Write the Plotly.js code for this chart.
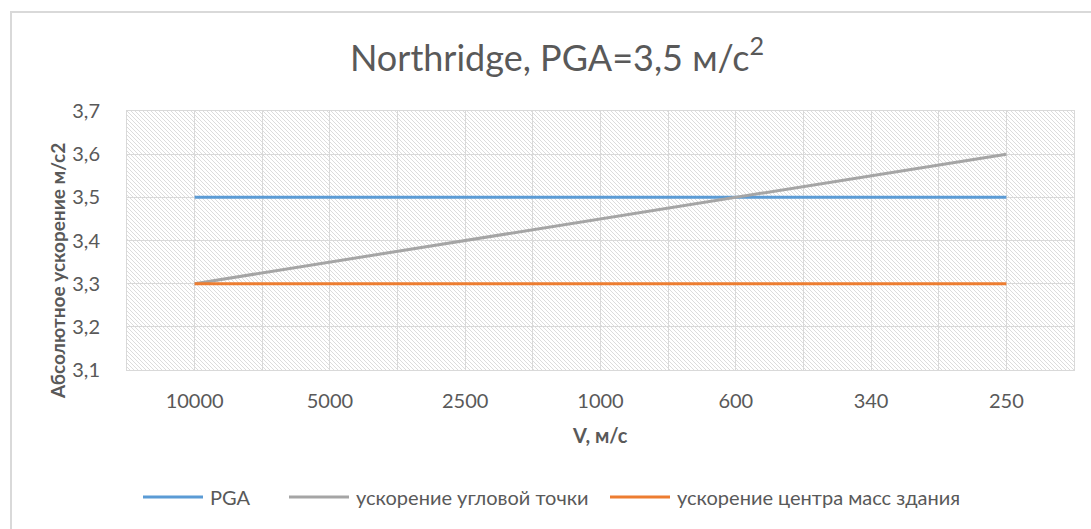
<!DOCTYPE html>
<html>
<head>
<meta charset="utf-8">
<script src="https://cdn.plot.ly/plotly-3.0.1.min.js"></script>
<style>
  html, body { margin: 0; padding: 0; background: #ffffff; }
  #wrap { position: relative; width: 1091px; height: 529px; overflow: hidden; }
  #chart { position: absolute; left: 0; top: 0; width: 1091px; height: 529px; }
  #frame {
    position: absolute; left: 10px; top: 11px; right: -20px; bottom: -20px;
    border-top: 2px solid #d9d9d9; border-left: 2px solid #d9d9d9;
    pointer-events: none;
  }
</style>
</head>
<body>
<div id="wrap">
  <div id="chart"></div>
  <div id="frame"></div>
</div>
<script>
// Shear-wave velocity classes (м/с)
const velocities = ['10000', '5000', '2500', '1000', '600', '340', '250'];
// Peak ground acceleration
const pga = [3.5, 3.5, 3.5, 3.5, 3.5, 3.5, 3.5];
// Acceleration of the corner point
const cornerAccel = [3.3, 3.35, 3.4, 3.45, 3.5, 3.55, 3.6];
// Acceleration of the building's centre of mass
const massCentreAccel = [3.3, 3.3, 3.3, 3.3, 3.3, 3.3, 3.3];
const yTicks = [3.1, 3.2, 3.3, 3.4, 3.5, 3.6, 3.7];
const yTickText = yTicks.map(v => v.toFixed(1).replace('.', ','));

const idx = velocities.map((_, i) => i);
const FONT = 'Lato, "Open Sans", sans-serif';
const TXT = '#595959';
const KEY_LEN = 60;   // legend key line length, px

// plotting area in pixels: x 127..1074, y 111..370
const PX = { l: 127, r: 1074, t: 111, b: 370 };
const toPaperX = px => (px - PX.l) / (PX.r - PX.l);
const toPaperY = py => (PX.b - py) / (PX.b - PX.t);

const traces = [
  { x: idx, y: pga, name: 'PGA', mode: 'lines', legend: 'legend',
    line: { color: '#5B9BD5', width: 3 } },
  { x: idx, y: cornerAccel, name: 'ускорение угловой точки', mode: 'lines', legend: 'legend2',
    line: { color: '#A5A5A5', width: 3 } },
  { x: idx, y: massCentreAccel, name: 'ускорение центра масс здания', mode: 'lines', legend: 'legend3',
    line: { color: '#ED7D31', width: 3 } }
];

function legendAt(px) {
  return {
    orientation: 'h',
    xref: 'container', x: px / 1091, xanchor: 'left',
    yref: 'container', y: 1 - 497 / 529, yanchor: 'middle',
    font: { family: FONT, size: 20, color: TXT },
    itemwidth: KEY_LEN + 2,
    bgcolor: 'rgba(0,0,0,0)'
  };
}

const layout = {
  width: 1091, height: 529,
  margin: { l: PX.l, r: 1091 - PX.r, t: PX.t, b: 529 - PX.b, pad: 0 },
  paper_bgcolor: 'rgba(0,0,0,0)',
  plot_bgcolor: '#ffffff',
  font: { family: FONT, color: TXT },
  showlegend: true,
  title: {
    text: 'Northridge, PGA=3,5 м/с<sup>2</sup>',
    font: { family: FONT, size: 36, color: TXT },
    xref: 'container', x: 557 / 1091, xanchor: 'center',
    yref: 'container', y: 1 - 58 / 529, yanchor: 'middle'
  },
  xaxis: {
    range: [-0.5, 6.5],
    tickmode: 'array', tickvals: idx, ticktext: velocities,
    tickfont: { family: FONT, size: 20, color: TXT },
    ticks: '', ticklabelstandoff: 13,
    showgrid: true, gridcolor: '#d9d9d9', gridwidth: 1,
    minor: { tickmode: 'linear', tick0: 0.5, dtick: 1, showgrid: true, gridcolor: '#d9d9d9', gridwidth: 1, ticks: '' },
    showline: true, linecolor: '#d9d9d9', linewidth: 1, mirror: true,
    zeroline: false, fixedrange: true
  },
  yaxis: {
    range: [3.1, 3.7],
    tickmode: 'array', tickvals: yTicks, ticktext: yTickText,
    tickfont: { family: FONT, size: 20, color: TXT },
    ticks: '', ticklabelstandoff: 22,
    showgrid: true, gridcolor: '#d9d9d9', gridwidth: 1,
    showline: true, linecolor: '#d9d9d9', linewidth: 1, mirror: true,
    zeroline: false, fixedrange: true
  },
  annotations: [
    { text: '<b>V, м/с</b>', xref: 'paper', yref: 'paper',
      x: toPaperX(600), y: toPaperY(435), xanchor: 'center', yanchor: 'middle',
      showarrow: false, font: { family: FONT, size: 20, color: TXT } },
    { text: '<b>Абсолютное ускорение м/с2</b>', xref: 'paper', yref: 'paper',
      x: toPaperX(57), y: toPaperY(271), xanchor: 'center', yanchor: 'middle',
      textangle: -90, showarrow: false, font: { family: FONT, size: 19, color: TXT } }
  ],
  legend: legendAt(138),
  legend2: legendAt(284),
  legend3: legendAt(605)
};

Plotly.newPlot('chart', traces, layout, { staticPlot: true, displayModeBar: false }).then(gd => {
  const NS = 'http://www.w3.org/2000/svg';
  // Longer legend key lines
  gd.querySelectorAll('.legendlines path').forEach(el => el.setAttribute('d', 'M5,0h' + KEY_LEN));

  // Diagonal hatch fill for the plotting area
  const svg = gd.querySelector('svg.main-svg');
  let defs = svg.querySelector('defs');
  if (!defs) { defs = document.createElementNS(NS, 'defs'); svg.insertBefore(defs, svg.firstChild); }
  const pat = document.createElementNS(NS, 'pattern');
  pat.setAttribute('id', 'plotHatch');
  pat.setAttribute('patternUnits', 'userSpaceOnUse');
  pat.setAttribute('width', '4');
  pat.setAttribute('height', '4');
  const bgRect = document.createElementNS(NS, 'rect');
  bgRect.setAttribute('width', '4'); bgRect.setAttribute('height', '4');
  bgRect.setAttribute('fill', '#ffffff');
  pat.appendChild(bgRect);
  const p = document.createElementNS(NS, 'path');
  p.setAttribute('d', 'M0,0 L4,4 M-1,3 L1,5 M3,-1 L5,1');
  p.setAttribute('stroke', '#dcdcdc');
  p.setAttribute('stroke-width', '1');
  pat.appendChild(p);
  defs.appendChild(pat);
  const bg = gd.querySelector('.bglayer rect.bg');
  if (bg) bg.style.fill = 'url(#plotHatch)';
});
</script>
</body>
</html>
